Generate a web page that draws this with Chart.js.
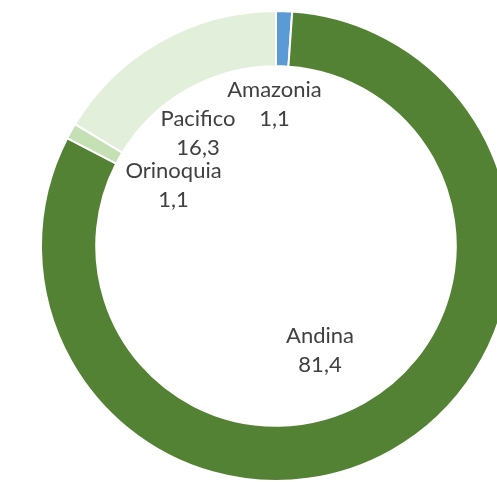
<!DOCTYPE html>
<html>
<head>
<meta charset="utf-8">
<script src="https://cdn.jsdelivr.net/npm/chart.js@4.4.1/dist/chart.umd.min.js"></script>
<style>
  html, body { margin: 0; padding: 0; background: #ffffff; overflow: hidden; }
  #wrap { position: relative; width: 552px; height: 482px; }
</style>
</head>
<body>
<div id="wrap"><canvas id="c"></canvas></div>
<script>
const categories = ["Amazonia", "Andina", "Orinoquia", "Pacifico"];
const values = [1.1, 81.4, 1.1, 16.3];
const valueLabels = ["1,1", "81,4", "1,1", "16,3"];
const colors = ["#5B9BD5", "#548235", "#C5E0B4", "#E2EFDA"];
// label block centres, relative to the doughnut centre
const labelOffsets = [[-1.5, -142], [44, 104.5], [-102.5, -61], [-78, -112.5]];

const labelPlugin = {
  id: 'sliceLabels',
  afterDatasetsDraw(chart) {
    const ctx = chart.ctx;
    const meta = chart.getDatasetMeta(0);
    const cx = meta.data[0].x, cy = meta.data[0].y;
    ctx.save();
    ctx.font = '22px Lato';
    ctx.fillStyle = '#404040';
    ctx.textAlign = 'center';
    ctx.textBaseline = 'middle';
    categories.forEach((name, i) => {
      const [dx, dy] = labelOffsets[i];
      ctx.fillText(name, cx + dx, cy + dy - 14.5);
      ctx.fillText(valueLabels[i], cx + dx, cy + dy + 14.5);
    });
    ctx.restore();
  }
};

new Chart(document.getElementById('c'), {
  type: 'doughnut',
  data: {
    labels: categories,
    datasets: [{
      data: values,
      backgroundColor: colors,
      borderColor: '#ffffff',
      borderWidth: 2
    }]
  },
  options: {
    responsive: true,
    maintainAspectRatio: false,
    animation: false,
    cutout: '76.5%',
    rotation: 0,
    layout: { padding: { top: 10, bottom: 0, left: 0, right: 0 } },
    plugins: { legend: { display: false }, tooltip: { enabled: false } }
  },
  plugins: [labelPlugin]
});
</script>
</body>
</html>
